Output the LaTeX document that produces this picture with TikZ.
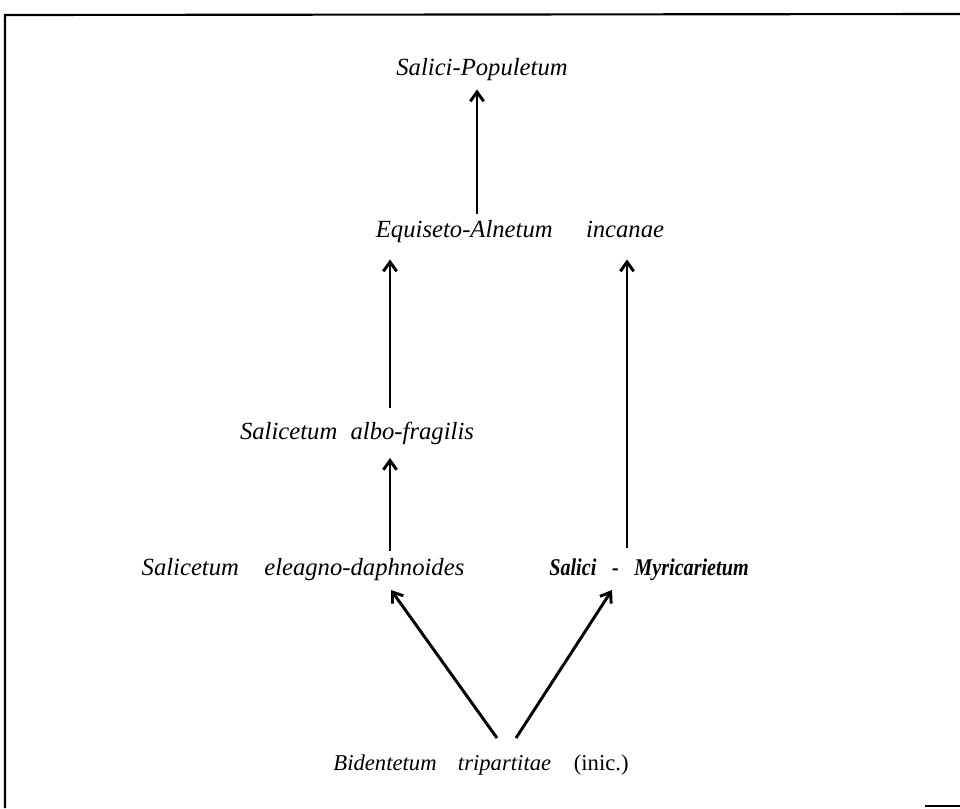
\documentclass[tikz,border=0pt]{standalone}
\usepackage{fontspec}
\setmainfont{Liberation Serif}
\usetikzlibrary{arrows.meta}
\begin{document}
\begin{tikzpicture}[x=0.75pt,y=-0.75pt,
  lbl/.style={font=\fontsize{18.5}{22}\selectfont\itshape, inner sep=0pt},
  arr/.style={line width=2.2pt,-{Straight Barb[length=7pt,width=10pt,line width=2.2pt]}},
  frame/.style={line width=1.6pt}]
\useasboundingbox (0,0) rectangle (960,808);
% frame
\coordinate (tl) at (5,15);
\coordinate (tr) at (960,14);
\coordinate (bl) at (5,808);
\coordinate (br1) at (925,806);
\coordinate (br2) at (960,806);
\draw[frame] (tr) -- (tl) -- (bl);
\draw[frame] (br1) -- (br2);
% nodes
\node[lbl] (pop) at (482,70) {Salici-Populetum};
\node[lbl] (eq) at (520,232) {Equiseto-Alnetum\hspace{25pt}incanae};
\node[lbl] (albo) at (357,433) {Salicetum\hspace{10pt}albo-fragilis};
\node[lbl] (ele) at (303,570) {Salicetum\hspace{19pt}eleagno-daphnoides};
\node[lbl, font=\fontsize{18}{22}\selectfont\bfseries\itshape] (myr) at (649,570) {\scalebox{0.84}[1]{Salici\hspace{14pt}-\hspace{14pt}Myricarietum}};
\node[lbl, font=\fontsize{17}{20}\selectfont\itshape] (bid) at (481,765) {Bidentetum\hspace{16pt}tripartitae\hspace{17pt}\upshape(inic.)};
% arrow columns
\coordinate (cA) at (477,0);
\coordinate (cL) at (390,0);
\coordinate (cR) at (627,0);
\coordinate (dL) at (497,738);
\coordinate (dR) at (516,738);
\draw[arr, shorten <=5pt, shorten >=6pt] (eq.north -| cA) -- (pop.south -| cA);
\draw[arr, shorten <=10pt, shorten >=12pt] (albo.north -| cL) -- (eq.south -| cL);
\draw[arr, shorten <=8pt, shorten >=12pt] (myr.north -| cR) -- (eq.south -| cR);
\draw[arr, shorten <=6pt, shorten >=10pt] (ele.north -| cL) -- (albo.south -| cL);
\draw[arr] (dL) -- (391,590) coordinate (tipL);
\draw[arr] (dR) -- (612,590) coordinate (tipR);
\end{tikzpicture}
\end{document}
